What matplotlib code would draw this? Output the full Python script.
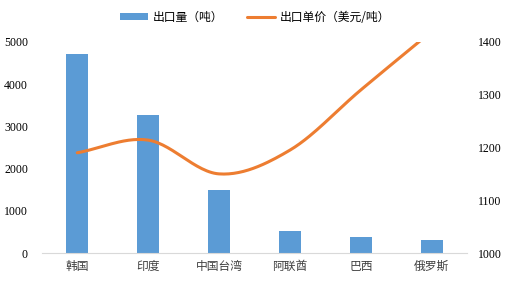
import numpy as np
import matplotlib.pyplot as plt

plt.rcParams['font.family'] = ['Noto Sans CJK SC', 'DejaVu Sans']

# 数据
paises = ['韩国', '印度', '中国台湾', '阿联酋', '巴西', '俄罗斯']
cantidad = [4720, 3270, 1500, 520, 380, 310]
precio = [1190, 1214, 1150, 1195, 1309, 1420]


def catmull_rom(xs, ys, n=30):
    # curva suavizada tipo Excel
    xs = np.asarray(xs, float)
    ys = np.asarray(ys, float)
    px = np.concatenate([[2 * xs[0] - xs[1]], xs, [2 * xs[-1] - xs[-2]]])
    py = np.concatenate([[2 * ys[0] - ys[1]], ys, [2 * ys[-1] - ys[-2]]])
    outx, outy = [], []
    t = np.linspace(0, 1, n)
    for i in range(1, len(px) - 2):
        for p, out in ((px, outx), (py, outy)):
            p0, p1, p2, p3 = p[i - 1], p[i], p[i + 1], p[i + 2]
            out.extend(0.5 * ((2 * p1) + (-p0 + p2) * t
                              + (2 * p0 - 5 * p1 + 4 * p2 - p3) * t ** 2
                              + (-p0 + 3 * p1 - 3 * p2 + p3) * t ** 3))
    return np.array(outx), np.array(outy)


fig = plt.figure(figsize=(5.1, 2.85), dpi=100)
ax = fig.add_axes([0.082, 0.112, 0.834, 0.741])
x = np.arange(len(paises))

barras = ax.bar(x, cantidad, width=0.31, color='#5B9BD5', label='出口量（吨）')
ax.set_ylim(0, 5000)
ax.set_xlim(-0.5, len(paises) - 0.5)
ax.set_yticks(range(0, 5001, 1000))
ax.set_xticks(x)
ax.set_xticklabels(paises, fontsize=8.5, color='#404040')

ax2 = ax.twinx()
sx, sy = catmull_rom(x, precio)
linea, = ax2.plot(sx, sy, color='#ED7D31', lw=2.2, label='出口单价（美元/吨）',
                  solid_capstyle='round')
ax2.set_ylim(1000, 1400)
ax2.set_yticks(range(1000, 1401, 100))

for a in (ax, ax2):
    for s in a.spines.values():
        s.set_visible(False)
    a.tick_params(length=0)
    for lab in a.get_yticklabels():
        lab.set_fontfamily('Liberation Serif')
        lab.set_fontsize(8.5)
ax.spines['bottom'].set_visible(True)
ax.spines['bottom'].set_color('#D9D9D9')
ax.tick_params(axis='y', pad=10)
ax.tick_params(axis='x', pad=5)
ax2.tick_params(axis='y', pad=8)

fig.legend(handles=[barras, linea], loc='center', bbox_to_anchor=(0.5, 0.94),
           ncol=2, frameon=False, fontsize=8.5, handlelength=2.4,
           handleheight=0.5, columnspacing=2.0, handletextpad=0.4)

plt.savefig('out.png', dpi=100)
